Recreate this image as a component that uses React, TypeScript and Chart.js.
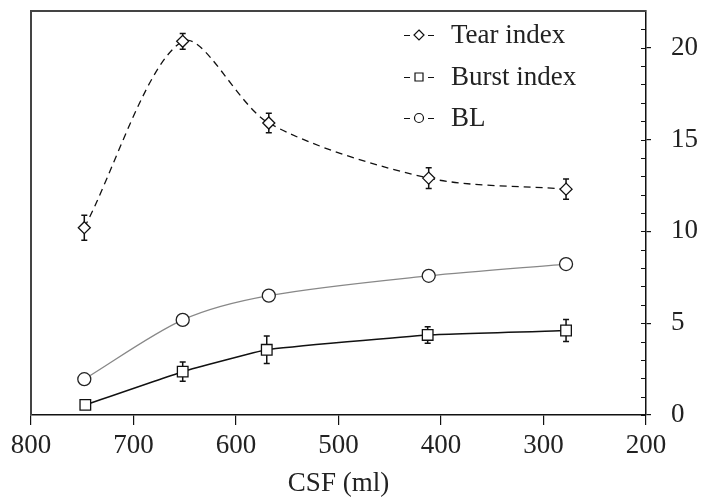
import React, { useEffect, useRef } from 'react';
import { Chart, registerables } from 'chart.js';
Chart.register(...registerables);

const csf = [748, 652, 568, 412, 278];
const tearIndex = [10.2, 20.35, 15.9, 12.9, 12.3];
const tearErr = [0.68, 0.43, 0.53, 0.57, 0.55];
const burstCsf = [747, 652, 570, 413, 278];
const burstIndex = [0.55, 2.36, 3.55, 4.36, 4.6];
const burstErr = [0, 0.52, 0.75, 0.45, 0.6];
const bl = [1.95, 5.18, 6.5, 7.58, 8.22];
const seriesLabels = ['Tear index', 'Burst index', 'BL'];
const xTicks = [800, 700, 600, 500, 400, 300, 200];
const yMajorTicks = [0, 5, 10, 15, 20];
const yMinorTicks = [1, 2, 3, 4, 6, 7, 8, 9, 11, 12, 13, 14, 16, 17, 18, 19, 21];
const xAxisTitle = 'CSF (ml)';

const FONT = '"Liberation Serif", "DejaVu Serif", serif';
const FONT_SIZE = 27;

function drawMarker(ctx: CanvasRenderingContext2D, style: string, x: number, y: number, r: number) {
  ctx.beginPath();
  if (style === 'rectRot') {
    ctx.moveTo(x, y - r);
    ctx.lineTo(x + r, y);
    ctx.lineTo(x, y + r);
    ctx.lineTo(x - r, y);
    ctx.closePath();
  } else if (style === 'rect') {
    ctx.rect(x - r, y - r, 2 * r, 2 * r);
  } else {
    ctx.arc(x, y, r, 0, Math.PI * 2);
  }
  ctx.fillStyle = '#fff';
  ctx.fill();
  ctx.stroke();
}

const errorBarPlugin = {
  id: 'errorBars',
  beforeDatasetsDraw(chart: any) {
    const ctx = chart.ctx;
    const ys = chart.scales.y;
    chart.data.datasets.forEach((ds: any, i: number) => {
      if (!ds.errors) return;
      const meta = chart.getDatasetMeta(i);
      ctx.save();
      ctx.strokeStyle = '#111';
      ctx.lineWidth = 1.5;
      meta.data.forEach((pt: any, j: number) => {
        const e = ds.errors[j];
        if (!e) return;
        const v = ds.data[j].y;
        const yTop = ys.getPixelForValue(v + e);
        const yBot = ys.getPixelForValue(v - e);
        ctx.beginPath();
        ctx.moveTo(pt.x, yTop);
        ctx.lineTo(pt.x, yBot);
        ctx.moveTo(pt.x - 3, yTop);
        ctx.lineTo(pt.x + 3, yTop);
        ctx.moveTo(pt.x - 3, yBot);
        ctx.lineTo(pt.x + 3, yBot);
        ctx.stroke();
      });
      ctx.restore();
    });
  },
};

const framePlugin = {
  id: 'frame',
  afterDraw(chart: any) {
    const { ctx, chartArea } = chart;
    const ys = chart.scales.y;
    ctx.save();
    ctx.strokeStyle = '#444';
    ctx.lineWidth = 2;
    ctx.beginPath();
    ctx.moveTo(chartArea.left, chartArea.bottom);
    ctx.lineTo(chartArea.left, chartArea.top);
    ctx.lineTo(chartArea.right, chartArea.top);
    ctx.stroke();
    ctx.strokeStyle = '#111';
    ctx.lineWidth = 1.2;
    ctx.beginPath();
    [...yMajorTicks, ...yMinorTicks].forEach((v) => {
      const y = Math.round(ys.getPixelForValue(v)) + 0.5;
      ctx.moveTo(chartArea.right - 5, y);
      ctx.lineTo(chartArea.right, y);
    });
    ctx.stroke();
    const x0 = 404;
    const rows = [35, 77, 118];
    chart.data.datasets.forEach((ds: any, i: number) => {
      const y = rows[i];
      ctx.strokeStyle = '#111';
      ctx.lineWidth = 1.2;
      ctx.beginPath();
      ctx.moveTo(x0, y + 0.5);
      ctx.lineTo(x0 + 6, y + 0.5);
      ctx.moveTo(x0 + 24, y + 0.5);
      ctx.lineTo(x0 + 30, y + 0.5);
      ctx.stroke();
      const st = ds.pointStyle;
      const r = st === 'rect' ? 4 : st === 'rectRot' ? 5 : 4.5;
      drawMarker(ctx, st, x0 + 15, y, r);
      ctx.fillStyle = '#222';
      ctx.font = `${FONT_SIZE}px ${FONT}`;
      ctx.textBaseline = 'middle';
      ctx.textAlign = 'left';
      ctx.fillText(ds.label, x0 + 47, y + 1);
    });
    ctx.restore();
  },
};

export default function App() {
  const ref = useRef<HTMLCanvasElement | null>(null);
  useEffect(() => {
    document.body.style.margin = '0';
    const canvas = ref.current;
    if (!canvas) return;
    const tickFont = { family: FONT, size: FONT_SIZE };
    const chart = new Chart(canvas, {
      type: 'line',
      data: {
        datasets: [
          {
            label: seriesLabels[0],
            data: csf.map((x, i) => ({ x, y: tearIndex[i] })),
            errors: tearErr,
            borderColor: '#111',
            borderWidth: 1.3,
            borderDash: [7, 5],
            tension: 0.3,
            pointStyle: 'rectRot',
            pointRadius: 6,
            pointBackgroundColor: '#fff',
            pointBorderColor: '#111',
            pointBorderWidth: 1.3,
            fill: false,
          } as any,
          {
            label: seriesLabels[1],
            data: burstCsf.map((x, i) => ({ x, y: burstIndex[i] })),
            errors: burstErr,
            borderColor: '#111',
            borderWidth: 1.5,
            tension: 0.1,
            pointStyle: 'rect',
            pointRadius: 7.5,
            pointBackgroundColor: '#fff',
            pointBorderColor: '#111',
            pointBorderWidth: 1.3,
            fill: false,
          } as any,
          {
            label: seriesLabels[2],
            data: csf.map((x, i) => ({ x, y: bl[i] })),
            borderColor: '#888',
            borderWidth: 1.3,
            tension: 0.3,
            pointStyle: 'circle',
            pointRadius: 6.5,
            pointBackgroundColor: '#fff',
            pointBorderColor: '#222',
            pointBorderWidth: 1.3,
            fill: false,
          } as any,
        ],
      },
      options: {
        animation: false,
        responsive: true,
        maintainAspectRatio: false,
        layout: { padding: { left: 31, top: 11, right: 0, bottom: 0 } },
        plugins: { legend: { display: false }, tooltip: { enabled: false } },
        scales: {
          x: {
            type: 'linear',
            reverse: true,
            min: 200,
            max: 800,
            afterBuildTicks: (s: any) => {
              s.ticks = xTicks.map((v) => ({ value: v }));
            },
            afterFit: (s: any) => {
              s.height = 86;
              s.paddingLeft = 0;
              s.paddingRight = 0;
            },
            grid: {
              display: true,
              drawOnChartArea: false,
              drawTicks: true,
              tickLength: 10,
              color: '#111',
              lineWidth: 1.2,
            },
            border: { display: true, color: '#111', width: 1.5 },
            ticks: { font: tickFont, color: '#222', padding: 5, maxRotation: 0, autoSkip: false },
            title: {
              display: true,
              text: xAxisTitle,
              font: tickFont,
              color: '#222',
              padding: { top: 0, bottom: 1 },
            },
          },
          y: {
            type: 'linear',
            position: 'right',
            min: 0,
            max: 22,
            afterBuildTicks: (s: any) => {
              s.ticks = yMajorTicks.map((v) => ({ value: v }));
            },
            afterFit: (s: any) => {
              s.width = 58;
              s.paddingTop = 0;
              s.paddingBottom = 0;
            },
            grid: {
              display: true,
              drawOnChartArea: false,
              drawTicks: true,
              tickLength: 5,
              color: '#111',
              lineWidth: 1.2,
            },
            border: { display: true, color: '#111', width: 1.5 },
            ticks: { font: tickFont, color: '#222', padding: 20, autoSkip: false },
          },
        },
      } as any,
      plugins: [errorBarPlugin, framePlugin],
    });
    return () => chart.destroy();
  }, []);
  return (
    <div style={{ width: 704, height: 501, position: 'relative' }}>
      <canvas ref={ref} />
    </div>
  );
}
